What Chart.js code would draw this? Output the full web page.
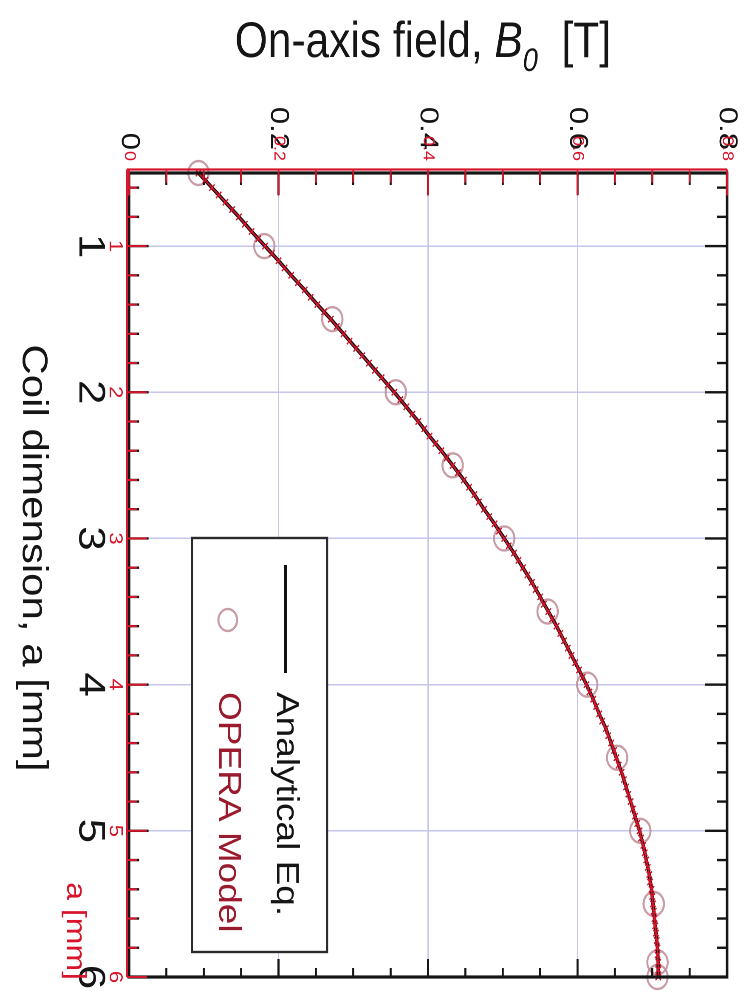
<!DOCTYPE html>
<html>
<head>
<meta charset="utf-8">
<title>On-axis field vs coil dimension</title>
<script src="https://cdn.jsdelivr.net/npm/chart.js@4.4.1/dist/chart.umd.min.js"></script>
<style>
  html, body { margin: 0; padding: 0; background: #fff; }
  body { width: 752px; height: 993px; overflow: hidden; position: relative; }
  /* The plot is laid out with a on the horizontal axis, then turned a quarter
     turn clockwise (and narrowed slightly) so the field axis runs across the top. */
  #turn {
    position: absolute; left: 0; top: 0;
    width: 993px; height: 885px;
    transform-origin: 0 0;
    transform: matrix(0, 1, -0.8497, 0, 752, 0);
  }
  canvas { display: block; }
</style>
</head>
<body>
<div id="turn"><canvas id="c" width="993" height="885"></canvas></div>
<script>
// ---- axis ticks ----
const aTickValues = [1, 2, 3, 4, 5, 6];
const aTickLabels = ['1', '2', '3', '4', '5', '6'];
const aMinorTicks = [0.6, 0.8, 1.2, 1.4, 1.6, 1.8, 2.2, 2.4, 2.6, 2.8, 3.2, 3.4, 3.6, 3.8,
                     4.2, 4.4, 4.6, 4.8, 5.2, 5.4, 5.6, 5.8];
const bTickValues = [0, 0.2, 0.4, 0.6, 0.8];
const bTickLabels = ['0', '0.2', '0.4', '0.6', '0.8'];
const bMinorTicks = [0.05, 0.1, 0.15, 0.25, 0.3, 0.35, 0.45, 0.5, 0.55, 0.65, 0.7, 0.75];

// ---- analytical equation, a [mm] vs B0 [T] ----
const aAnalytical = [0.5, 0.6, 0.7, 0.8, 0.9, 1.0, 1.1, 1.2, 1.3, 1.4,
                     1.5, 1.6, 1.7, 1.8, 1.9, 2.0, 2.1, 2.2, 2.3, 2.4,
                     2.5, 2.6, 2.7, 2.8, 2.9, 3.0, 3.1, 3.2, 3.3, 3.4,
                     3.5, 3.6, 3.7, 3.8, 3.9, 4.0, 4.1, 4.2, 4.3, 4.4,
                     4.5, 4.6, 4.7, 4.8, 4.9, 5.0, 5.1, 5.2, 5.3, 5.4,
                     5.5, 5.6, 5.7, 5.8, 5.9, 6.0];
const bAnalytical = [0.093, 0.111, 0.129, 0.147, 0.164, 0.182, 0.200, 0.217, 0.235, 0.252,
                     0.270, 0.287, 0.304, 0.321, 0.338, 0.355, 0.371, 0.387, 0.402, 0.418,
                     0.433, 0.448, 0.462, 0.475, 0.489, 0.502, 0.515, 0.527, 0.539, 0.550,
                     0.561, 0.572, 0.582, 0.592, 0.602, 0.612, 0.621, 0.629, 0.638, 0.645,
                     0.652, 0.659, 0.665, 0.671, 0.677, 0.683, 0.688, 0.692, 0.696, 0.699,
                     0.701, 0.703, 0.705, 0.707, 0.708, 0.708];

// ---- OPERA finite-element profile (fine sampling) ----
const aOperaFine = [0.50, 0.55, 0.60, 0.65, 0.70, 0.75, 0.80, 0.85, 0.90, 0.95,
                    1.00, 1.05, 1.10, 1.15, 1.20, 1.25, 1.30, 1.35, 1.40, 1.45,
                    1.50, 1.55, 1.60, 1.65, 1.70, 1.75, 1.80, 1.85, 1.90, 1.95,
                    2.00, 2.05, 2.10, 2.15, 2.20, 2.25, 2.30, 2.35, 2.40, 2.45,
                    2.50, 2.55, 2.60, 2.65, 2.70, 2.75, 2.80, 2.85, 2.90, 2.95,
                    3.00, 3.05, 3.10, 3.15, 3.20, 3.25, 3.30, 3.35, 3.40, 3.45,
                    3.50, 3.55, 3.60, 3.65, 3.70, 3.75, 3.80, 3.85, 3.90, 3.95,
                    4.00, 4.05, 4.10, 4.15, 4.20, 4.25, 4.30, 4.35, 4.40, 4.45,
                    4.50, 4.55, 4.60, 4.65, 4.70, 4.75, 4.80, 4.85, 4.90, 4.95,
                    5.00, 5.05, 5.10, 5.15, 5.20, 5.25, 5.30, 5.35, 5.40, 5.45,
                    5.50, 5.55, 5.60, 5.65, 5.70, 5.75, 5.80, 5.85, 5.90, 5.95,
                    6.00];
const bOperaFine = [0.093, 0.102, 0.111, 0.120, 0.129, 0.138, 0.147, 0.155, 0.164, 0.173,
                    0.182, 0.191, 0.200, 0.208, 0.217, 0.226, 0.235, 0.243, 0.252, 0.261,
                    0.270, 0.278, 0.287, 0.295, 0.304, 0.312, 0.321, 0.329, 0.338, 0.346,
                    0.355, 0.363, 0.371, 0.379, 0.387, 0.395, 0.402, 0.410, 0.418, 0.425,
                    0.433, 0.440, 0.448, 0.455, 0.462, 0.468, 0.475, 0.482, 0.489, 0.495,
                    0.502, 0.508, 0.515, 0.521, 0.527, 0.533, 0.539, 0.544, 0.550, 0.555,
                    0.561, 0.566, 0.572, 0.577, 0.582, 0.587, 0.592, 0.597, 0.602, 0.607,
                    0.612, 0.616, 0.621, 0.625, 0.629, 0.633, 0.638, 0.641, 0.645, 0.649,
                    0.652, 0.655, 0.659, 0.662, 0.665, 0.668, 0.671, 0.674, 0.677, 0.680,
                    0.683, 0.685, 0.688, 0.690, 0.692, 0.694, 0.696, 0.697, 0.699, 0.700,
                    0.701, 0.702, 0.703, 0.704, 0.705, 0.706, 0.707, 0.707, 0.708, 0.708,
                    0.708];

// ---- OPERA model, coarse points ----
const aOperaModel = [0.5, 1.0, 1.5, 2.0, 2.5, 3.0, 3.5, 4.0, 4.5, 5.0, 5.5, 5.9, 6.0];
const bOperaModel = [0.093, 0.181, 0.272, 0.357, 0.433, 0.502, 0.560, 0.613, 0.653, 0.684, 0.702, 0.707, 0.707];

// ---- layout & styling ----
const FONT = "'Liberation Sans', Arial, Helvetica, sans-serif";
const INK = '#151515';
const RED = '#d8142a';
const GRID = '#c6c6ec';
const PLOT = { left: 173, right: 977, top: 29.4, bottom: 733.2 };
const CANVAS = { w: 993, h: 885 };

const toPoints = (xs, ys) => xs.map((x, i) => ({ x, y: ys[i] }));

function drawTitle(ctx, bx, cy) {
  const parts = [
    { t: 'On-axis field, ', f: `50px ${FONT}`, dy: 0 },
    { t: 'B', f: `italic 50px ${FONT}`, dy: 0 },
    { t: '0', f: `italic 32px ${FONT}`, dy: 14 },
    { t: '  [T]', f: `50px ${FONT}`, dy: 0 }
  ];
  let total = 0;
  parts.forEach(p => { ctx.font = p.f; p.w = ctx.measureText(p.t).width; total += p.w; });
  ctx.save();
  ctx.translate(bx, cy);
  ctx.rotate(-Math.PI / 2);
  ctx.fillStyle = INK;
  ctx.textAlign = 'left';
  ctx.textBaseline = 'alphabetic';
  let xx = -total / 2;
  parts.forEach(p => { ctx.font = p.f; ctx.fillText(p.t, xx, p.dy); xx += p.w; });
  ctx.restore();
}

const decorations = {
  id: 'decorations',
  afterDatasetsDraw(chart) {
    const { ctx, chartArea: ca, scales: { x, y } } = chart;
    const seg = (x1, y1, x2, y2) => { ctx.beginPath(); ctx.moveTo(x1, y1); ctx.lineTo(x2, y2); ctx.stroke(); };
    ctx.save();
    ctx.lineCap = 'butt';

    // inward ticks on all four sides
    ctx.strokeStyle = INK;
    ctx.lineWidth = 2.4;
    aMinorTicks.forEach(v => { const p = x.getPixelForValue(v); seg(p, ca.top, p, ca.top + 12); seg(p, ca.bottom, p, ca.bottom - 12); });
    aTickValues.forEach(v => { const p = x.getPixelForValue(v); seg(p, ca.top, p, ca.top + 26); seg(p, ca.bottom, p, ca.bottom - 23); });
    bMinorTicks.forEach(v => { const p = y.getPixelForValue(v); seg(ca.left, p, ca.left + 12, p); seg(ca.right, p, ca.right - 9, p); });
    bTickValues.forEach(v => { const p = y.getPixelForValue(v); seg(ca.left, p, ca.left + 22, p); seg(ca.right, p, ca.right - 18, p); });

    // plot frame
    ctx.lineWidth = 3.2;
    ctx.strokeRect(ca.left, ca.top, ca.right - ca.left, ca.bottom - ca.top);

    // red companion axes along the a axis and the field axis
    const rx = ca.left - 3.5, ry = ca.bottom + 2.5;
    ctx.strokeStyle = RED;
    ctx.lineWidth = 2.2;
    seg(rx, ry, rx, ca.top);
    seg(rx, ry, ca.right, ry);
    ctx.lineWidth = 2;
    aMinorTicks.forEach(v => { const p = x.getPixelForValue(v); seg(p, ry, p, ry - 12); });
    aTickValues.forEach(v => { const p = x.getPixelForValue(v); seg(p, ry, p, ry - 23.5); });
    bMinorTicks.forEach(v => { const p = y.getPixelForValue(v); seg(rx, p, rx + 13, p); });
    bTickValues.forEach(v => { const p = y.getPixelForValue(v); seg(rx, p, rx + 26, p); });

    ctx.fillStyle = RED;
    ctx.textBaseline = 'middle';
    ctx.textAlign = 'center';
    ctx.font = `22px ${FONT}`;
    aTickValues.forEach((v, i) => ctx.fillText(aTickLabels[i], x.getPixelForValue(v), ry + 14));
    ctx.textAlign = 'right';
    ctx.font = `18px ${FONT}`;
    bTickValues.forEach((v, i) => ctx.fillText(bTickLabels[i], ca.left - 12, y.getPixelForValue(v)));
    ctx.font = `32px ${FONT}`;
    ctx.fillText('a [mm]', ca.right + 3, ca.bottom + 64);

    // axis titles
    ctx.fillStyle = INK;
    ctx.textAlign = 'center';
    ctx.font = `42px ${FONT}`;
    ctx.fillText('Coil dimension, a [mm]', (ca.left + ca.right) / 2 - 17, ca.bottom + 113);
    drawTitle(ctx, ca.left - 116, (ca.top + ca.bottom) / 2 + 6);

    // legend
    const lg = { x: 538, y: 500, w: 414, h: 159 };
    const analytical = chart.data.datasets[1];
    const model = chart.data.datasets[2];
    ctx.fillStyle = '#fff';
    ctx.fillRect(lg.x, lg.y, lg.w, lg.h);
    ctx.strokeStyle = '#2b2b2b';
    ctx.lineWidth = 2.4;
    ctx.strokeRect(lg.x, lg.y, lg.w, lg.h);
    const row1 = lg.y + 49, row2 = lg.y + 117;
    ctx.strokeStyle = analytical.borderColor;
    ctx.lineWidth = 3;
    seg(lg.x + 27, row1, lg.x + 135, row1);
    ctx.strokeStyle = model.pointBorderColor;
    ctx.lineWidth = model.pointBorderWidth;
    ctx.beginPath(); ctx.arc(lg.x + 82, row2, 11, 0, Math.PI * 2); ctx.stroke();
    ctx.textAlign = 'left';
    ctx.font = `37px ${FONT}`;
    ctx.fillStyle = INK;
    ctx.fillText(analytical.label, lg.x + 154, row1);
    ctx.fillStyle = '#9a1b2e';
    ctx.fillText(model.label, lg.x + 154, row2);

    ctx.restore();
  }
};

Chart.defaults.font.family = FONT;
Chart.defaults.color = INK;

new Chart(document.getElementById('c'), {
  type: 'scatter',
  data: {
    datasets: [
      {
        label: 'OPERA profile',
        data: toPoints(aOperaFine, bOperaFine),
        showLine: true,
        borderColor: RED,
        borderWidth: 1.6,
        pointStyle: 'crossRot',
        pointRadius: 4.5,
        pointBorderColor: RED,
        pointBorderWidth: 1.5,
        clip: false,
        order: 0
      },
      {
        label: 'Analytical Eq.',
        data: toPoints(aAnalytical, bAnalytical),
        showLine: true,
        borderColor: '#111111',
        borderWidth: 4,
        pointRadius: 0,
        order: 1
      },
      {
        label: 'OPERA Model',
        data: toPoints(aOperaModel, bOperaModel),
        showLine: false,
        pointStyle: 'circle',
        pointRadius: 12,
        pointBackgroundColor: 'rgba(255,255,255,0)',
        pointBorderColor: 'rgba(190,140,150,0.85)',
        pointBorderWidth: 2.4,
        clip: false,
        order: 2
      }
    ]
  },
  options: {
    responsive: false,
    animation: false,
    devicePixelRatio: 2,
    events: [],
    layout: { padding: { top: PLOT.top, right: CANVAS.w - PLOT.right, left: 0, bottom: 0 } },
    plugins: { legend: { display: false }, tooltip: { enabled: false } },
    scales: {
      x: {
        type: 'linear',
        position: 'bottom',
        min: 0.5,
        max: 6,
        afterBuildTicks: s => { s.ticks = aTickValues.map(v => ({ value: v })); },
        afterFit: s => {
          s.height = CANVAS.h - PLOT.bottom;
          s.paddingLeft = 0; s.paddingRight = 0;
        },
        border: { display: false },
        grid: {
          drawTicks: false,
          lineWidth: 1.5,
          color: c => (c.tick && c.tick.value < 6 ? GRID : 'rgba(0,0,0,0)')
        },
        ticks: {
          autoSkip: false,
          maxRotation: 0,
          padding: 20,
          color: INK,
          font: { size: 44 },
          callback: (v, i) => aTickLabels[i]
        }
      },
      y: {
        type: 'linear',
        position: 'left',
        min: 0,
        max: 0.8,
        afterBuildTicks: s => { s.ticks = bTickValues.map(v => ({ value: v })); },
        afterFit: s => {
          s.width = PLOT.left;
          s.paddingTop = 0; s.paddingBottom = 0;
        },
        border: { display: false },
        grid: {
          drawTicks: false,
          lineWidth: 1.5,
          color: c => (c.tick && c.tick.value > 0 && c.tick.value < 0.8 ? GRID : 'rgba(0,0,0,0)')
        },
        ticks: {
          autoSkip: false,
          padding: 23,
          color: INK,
          font: { size: 31 },
          callback: (v, i) => bTickLabels[i]
        }
      }
    }
  },
  plugins: [decorations]
});
</script>
</body>
</html>
